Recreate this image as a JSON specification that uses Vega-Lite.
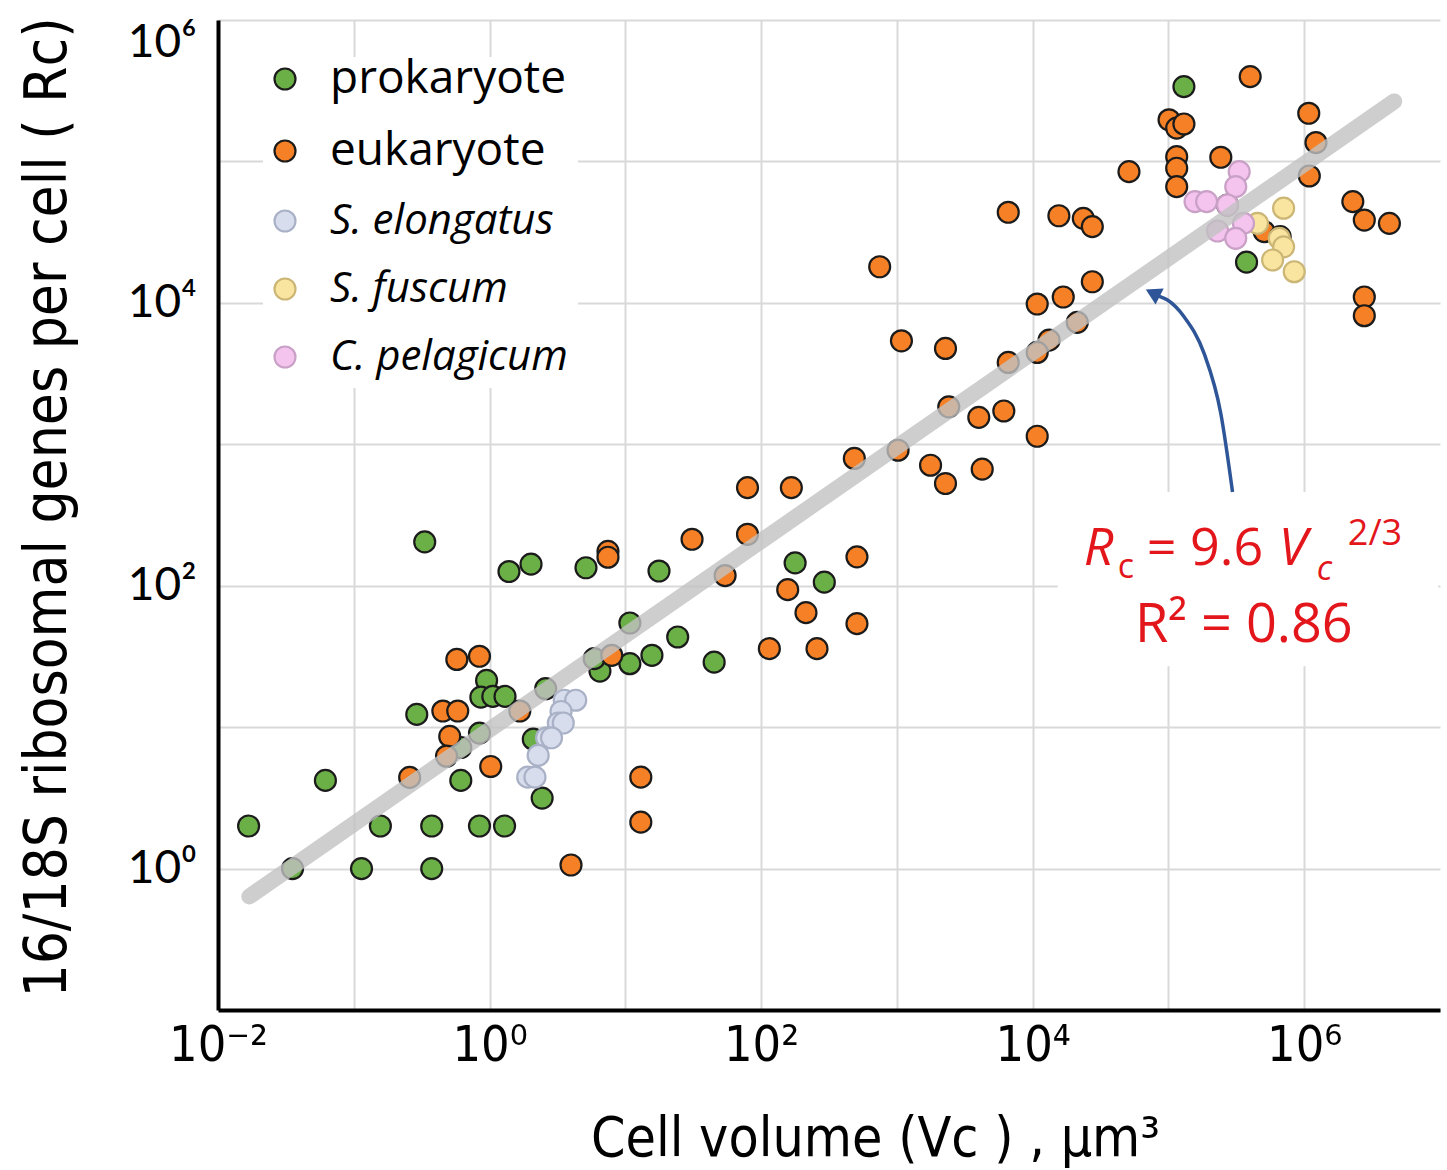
{
  "$schema": "https://vega.github.io/schema/vega-lite/v6.json",
  "width": 1222,
  "height": 990,
  "autosize": {"type": "none"},
  "padding": {"left": 218, "top": 20, "right": 7, "bottom": 160},
  "background": "white",
  "config": {"view": {"stroke": null}},
  "datasets": {
    "box": [{"V": 15300, "V2": 9700000, "R": 27, "R2": 460}],
    "pts": [
      {"group": "prokaryote", "V": 0.0168, "R": 2},
      {"group": "prokaryote", "V": 0.0354, "R": 1},
      {"group": "prokaryote", "V": 0.0618, "R": 4.2},
      {"group": "prokaryote", "V": 0.114, "R": 1},
      {"group": "prokaryote", "V": 0.157, "R": 2},
      {"group": "prokaryote", "V": 0.291, "R": 12.3},
      {"group": "prokaryote", "V": 0.375, "R": 2},
      {"group": "prokaryote", "V": 0.375, "R": 1},
      {"group": "prokaryote", "V": 0.614, "R": 7.18},
      {"group": "prokaryote", "V": 0.614, "R": 4.2},
      {"group": "prokaryote", "V": 0.843, "R": 2},
      {"group": "prokaryote", "V": 1.29, "R": 2},
      {"group": "prokaryote", "V": 0.843, "R": 9.07},
      {"group": "prokaryote", "V": 0.951, "R": 21.4},
      {"group": "prokaryote", "V": 0.863, "R": 16.3},
      {"group": "prokaryote", "V": 1.057, "R": 16.5},
      {"group": "prokaryote", "V": 1.3, "R": 16.5},
      {"group": "prokaryote", "V": 0.333, "R": 204},
      {"group": "prokaryote", "V": 1.39, "R": 126},
      {"group": "prokaryote", "V": 2.02, "R": 142},
      {"group": "prokaryote", "V": 5.13, "R": 134},
      {"group": "prokaryote", "V": 17.7, "R": 127},
      {"group": "prokaryote", "V": 10.8, "R": 54.5},
      {"group": "prokaryote", "V": 24.3, "R": 43.4},
      {"group": "prokaryote", "V": 15.7, "R": 32.2},
      {"group": "prokaryote", "V": 10.8, "R": 28.1},
      {"group": "prokaryote", "V": 6.5, "R": 24.9},
      {"group": "prokaryote", "V": 5.9, "R": 30.5},
      {"group": "prokaryote", "V": 2.59, "R": 18.7},
      {"group": "prokaryote", "V": 2.1, "R": 8.22},
      {"group": "prokaryote", "V": 2.44, "R": 3.15},
      {"group": "prokaryote", "V": 45.1, "R": 28.8},
      {"group": "prokaryote", "V": 178, "R": 145},
      {"group": "prokaryote", "V": 292, "R": 106},
      {"group": "prokaryote", "V": 130000, "R": 338000},
      {"group": "prokaryote", "V": 376000, "R": 19400},
      {"group": "eukaryote", "V": 0.258, "R": 4.41},
      {"group": "eukaryote", "V": 0.453, "R": 13},
      {"group": "eukaryote", "V": 0.583, "R": 13},
      {"group": "eukaryote", "V": 0.574, "R": 30.1},
      {"group": "eukaryote", "V": 0.843, "R": 31.7},
      {"group": "eukaryote", "V": 0.509, "R": 8.6},
      {"group": "eukaryote", "V": 0.482, "R": 6.23},
      {"group": "eukaryote", "V": 1.02, "R": 5.27},
      {"group": "eukaryote", "V": 1.67, "R": 13},
      {"group": "eukaryote", "V": 7.45, "R": 175},
      {"group": "eukaryote", "V": 7.45, "R": 159},
      {"group": "eukaryote", "V": 31, "R": 213},
      {"group": "eukaryote", "V": 3.98, "R": 1.06},
      {"group": "eukaryote", "V": 13, "R": 4.43},
      {"group": "eukaryote", "V": 13, "R": 2.13},
      {"group": "eukaryote", "V": 7.94, "R": 32.2},
      {"group": "eukaryote", "V": 54.3, "R": 118},
      {"group": "eukaryote", "V": 79.4, "R": 494},
      {"group": "eukaryote", "V": 79.4, "R": 231},
      {"group": "eukaryote", "V": 167, "R": 494},
      {"group": "eukaryote", "V": 486, "R": 794},
      {"group": "eukaryote", "V": 1020, "R": 908},
      {"group": "eukaryote", "V": 508, "R": 160},
      {"group": "eukaryote", "V": 157, "R": 93.8},
      {"group": "eukaryote", "V": 214, "R": 64.5},
      {"group": "eukaryote", "V": 508, "R": 53.9},
      {"group": "eukaryote", "V": 115, "R": 35.9},
      {"group": "eukaryote", "V": 258, "R": 35.9},
      {"group": "eukaryote", "V": 51200, "R": 84700},
      {"group": "eukaryote", "V": 6610, "R": 43700},
      {"group": "eukaryote", "V": 15600, "R": 41300},
      {"group": "eukaryote", "V": 23600, "R": 39600},
      {"group": "eukaryote", "V": 27500, "R": 34600},
      {"group": "eukaryote", "V": 747, "R": 18000},
      {"group": "eukaryote", "V": 27500, "R": 14100},
      {"group": "eukaryote", "V": 16800, "R": 11000},
      {"group": "eukaryote", "V": 10800, "R": 9810},
      {"group": "eukaryote", "V": 21300, "R": 7280},
      {"group": "eukaryote", "V": 13200, "R": 5450},
      {"group": "eukaryote", "V": 10800, "R": 4460},
      {"group": "eukaryote", "V": 1080, "R": 5390},
      {"group": "eukaryote", "V": 2280, "R": 4760},
      {"group": "eukaryote", "V": 6610, "R": 3790},
      {"group": "eukaryote", "V": 2410, "R": 1840},
      {"group": "eukaryote", "V": 4010, "R": 1550},
      {"group": "eukaryote", "V": 6130, "R": 1720},
      {"group": "eukaryote", "V": 10800, "R": 1140},
      {"group": "eukaryote", "V": 1770, "R": 711},
      {"group": "eukaryote", "V": 2280, "R": 528},
      {"group": "eukaryote", "V": 4250, "R": 667},
      {"group": "eukaryote", "V": 400000, "R": 398000},
      {"group": "eukaryote", "V": 101000, "R": 197000},
      {"group": "eukaryote", "V": 115000, "R": 172000},
      {"group": "eukaryote", "V": 130000, "R": 184000},
      {"group": "eukaryote", "V": 115000, "R": 108000},
      {"group": "eukaryote", "V": 115000, "R": 89500},
      {"group": "eukaryote", "V": 115000, "R": 66300},
      {"group": "eukaryote", "V": 243000, "R": 107000},
      {"group": "eukaryote", "V": 1080000, "R": 219000},
      {"group": "eukaryote", "V": 1220000, "R": 136000},
      {"group": "eukaryote", "V": 1090000, "R": 78900},
      {"group": "eukaryote", "V": 2280000, "R": 52000},
      {"group": "eukaryote", "V": 2770000, "R": 38500},
      {"group": "eukaryote", "V": 4240000, "R": 36500},
      {"group": "eukaryote", "V": 2770000, "R": 11000},
      {"group": "eukaryote", "V": 2770000, "R": 8110},
      {"group": "eukaryote", "V": 272000, "R": 49200},
      {"group": "eukaryote", "V": 507000, "R": 31900},
      {"group": "eukaryote", "V": 665000, "R": 29400},
      {"group": "S. elongatus", "V": 3.55, "R": 15.5},
      {"group": "S. elongatus", "V": 4.31, "R": 15.5},
      {"group": "S. elongatus", "V": 3.36, "R": 12.9},
      {"group": "S. elongatus", "V": 3.21, "R": 10.7},
      {"group": "S. elongatus", "V": 3.49, "R": 10.7},
      {"group": "S. elongatus", "V": 2.63, "R": 8.41},
      {"group": "S. elongatus", "V": 2.86, "R": 8.41},
      {"group": "S. elongatus", "V": 2.28, "R": 6.31},
      {"group": "S. elongatus", "V": 1.91, "R": 4.43},
      {"group": "S. elongatus", "V": 2.16, "R": 4.43},
      {"group": "S. fuscum", "V": 705000, "R": 46700},
      {"group": "S. fuscum", "V": 453000, "R": 36500},
      {"group": "S. fuscum", "V": 655000, "R": 28600},
      {"group": "S. fuscum", "V": 705000, "R": 24900},
      {"group": "S. fuscum", "V": 585000, "R": 20100},
      {"group": "S. fuscum", "V": 844000, "R": 16600},
      {"group": "C. pelagicum", "V": 332000, "R": 84700},
      {"group": "C. pelagicum", "V": 313000, "R": 66300},
      {"group": "C. pelagicum", "V": 157000, "R": 52000},
      {"group": "C. pelagicum", "V": 191000, "R": 52000},
      {"group": "C. pelagicum", "V": 272000, "R": 49200},
      {"group": "C. pelagicum", "V": 230000, "R": 32200},
      {"group": "C. pelagicum", "V": 357000, "R": 36500},
      {"group": "C. pelagicum", "V": 313000, "R": 28600}
    ],
    "fit": [{"V": 0.017, "R": 0.635}, {"V": 4600000, "R": 265600}],
    "arrow": [
      {"V": 296500, "R": 460},
      {"V": 243000, "R": 1652},
      {"V": 183000, "R": 4395},
      {"V": 130300, "R": 7976},
      {"V": 98400, "R": 10470},
      {"V": 84800, "R": 11170}
    ],
    "arrowhead": [{"V": 76600, "R": 11730}],
    "eq": [{"V": 371500, "R": 139.4}],
    "r2": [{"V": 359000, "R": 39.76, "label": "R² = 0.86"}]
  },
  "encoding": {
    "x": {"field": "V", "type": "quantitative",
      "scale": {"type": "log", "domain": [0.01, 10000000], "nice": false},
      "axis": {
        "values": [0.01, 0.1, 1, 10, 100, 1000, 10000, 100000, 1000000],
        "labelExpr": "['10⁻²','','10⁰','','10²','','10⁴','','10⁶',''][round(log(datum.value)/LN10)+2]",
        "grid": true, "gridColor": "#d9d9d9", "gridWidth": 2,
        "domainColor": "#000000", "domainWidth": 4,
        "ticks": false, "tickSize": 0, "labelPadding": 10,
        "labelFont": "Liberation Sans Narrow, DejaVu Sans Condensed, Lato", "labelFontSize": 50, "labelColor": "#000000",
        "labelBaseline": "top", "labelOverlap": false, "labelFlush": false, "labelBound": false,
        "title": "Cell volume (Vc ) , µm³",
        "titleFont": "Liberation Sans Narrow, DejaVu Sans Condensed, Lato", "titleFontSize": 55, "titleFontWeight": "normal", "titleColor": "#000000",
        "titleX": 657, "titleY": 128, "titleBaseline": "middle", "titleAlign": "center",
        "zindex": 0
      }
    },
    "y": {"field": "R", "type": "quantitative",
      "scale": {"type": "log", "domain": [0.1, 1000000], "nice": false},
      "axis": {
        "values": [0.1, 1, 10, 100, 1000, 10000, 100000, 1000000],
        "labelExpr": "['','10⁰','','10²','','10⁴','','10⁶'][round(log(datum.value)/LN10)+1]",
        "grid": true, "gridColor": "#d9d9d9", "gridWidth": 2,
        "domainColor": "#000000", "domainWidth": 4,
        "ticks": false, "tickSize": 0, "labelPadding": 22,
        "labelFont": "Lato", "labelFontSize": 46, "labelColor": "#000000",
        "labelOverlap": false, "labelFlush": true, "labelBound": false,
        "title": "16/18S ribosomal genes per cell ( Rc)",
        "titleFont": "Liberation Sans Narrow, DejaVu Sans Condensed, Lato", "titleFontSize": 58, "titleFontWeight": "normal", "titleColor": "#000000",
        "titleAngle": -90, "titleX": -170, "titleY": 487, "titleBaseline": "middle", "titleAlign": "center",
        "zindex": 0
      }
    }
  },
  "layer": [
    {
      "data": {"name": "box"},
      "mark": {"type": "rect", "fill": "white"},
      "encoding": {"x2": {"field": "V2"}, "y2": {"field": "R2"}}
    },
    {
      "data": {"name": "pts"},
      "mark": {"type": "point", "filled": true, "opacity": 1, "strokeWidth": 2.2},
      "encoding": {
        "fill": {"field": "group", "type": "nominal",
          "scale": {"domain": ["prokaryote", "eukaryote", "S. elongatus", "S. fuscum", "C. pelagicum"],
                    "range": ["#6baf47", "#f58025", "#d8ddee", "#fae5a0", "#f4c4ee"]},
          "legend": {"title": null, "orient": "none", "legendX": 45, "legendY": 37, "fillColor": "white", "padding": 10,
            "rowPadding": 26, "labelFont": "Open Sans", "labelFontSize": 44, "labelColor": "#000000", "labelOffset": 33, "labelLimit": 0,
            "symbolStrokeWidth": 2.2,
            "encoding": {
              "symbols": {"size": {"condition": {"test": "datum.value === 'prokaryote' || datum.value === 'eukaryote'", "value": 900}, "value": 560}},
              "labels": {
                "fontStyle": {"condition": {"test": "datum.value === 'prokaryote' || datum.value === 'eukaryote'", "value": "normal"}, "value": "italic"},
                "fontSize": {"condition": {"test": "datum.value === 'prokaryote' || datum.value === 'eukaryote'", "value": 46}, "value": 42}}
            }
          }
        },
        "stroke": {"field": "group", "type": "nominal",
          "scale": {"domain": ["prokaryote", "eukaryote", "S. elongatus", "S. fuscum", "C. pelagicum"],
                    "range": ["#1b1b1b", "#1b1b1b", "#a9b1c6", "#cbb676", "#c9a0c6"]},
          "legend": {"title": null, "orient": "none", "legendX": 45, "legendY": 37}
        },
        "size": {"field": "group", "type": "nominal",
          "scale": {"domain": ["prokaryote", "eukaryote", "S. elongatus", "S. fuscum", "C. pelagicum"],
                    "range": [440, 440, 170, 170, 170]},
          "legend": {"title": null, "orient": "none", "legendX": 45, "legendY": 37}
        }
      }
    },
    {
      "data": {"name": "fit"},
      "mark": {"type": "line", "color": "#c2c2c2", "strokeWidth": 16, "strokeCap": "round", "opacity": 0.8},
      "encoding": {}
    },
    {
      "data": {"name": "arrow"},
      "mark": {"type": "line", "color": "#2e5597", "strokeWidth": 3.5, "interpolate": "monotone"},
      "encoding": {}
    },
    {
      "data": {"name": "arrowhead"},
      "mark": {"type": "point", "shape": "triangle-up", "filled": true, "color": "#2e5597", "opacity": 1, "size": 320, "angle": 297},
      "encoding": {}
    },
    {
      "data": {"name": "eq"},
      "layer": [
        {"mark": {"type": "text", "text": "R", "font": "Open Sans", "fontSize": 52, "fontStyle": "italic", "color": "#e3161b", "align": "left", "baseline": "alphabetic", "dx": -162}},
        {"mark": {"type": "text", "text": "c", "font": "Open Sans", "fontSize": 34, "color": "#e3161b", "align": "left", "baseline": "alphabetic", "dx": -128, "dy": 13}},
        {"mark": {"type": "text", "text": "= 9.6", "font": "Open Sans", "fontSize": 52, "color": "#e3161b", "align": "left", "baseline": "alphabetic", "dx": -99}},
        {"mark": {"type": "text", "text": "V", "font": "Open Sans", "fontSize": 52, "fontStyle": "italic", "color": "#e3161b", "align": "left", "baseline": "alphabetic", "dx": 33}},
        {"mark": {"type": "text", "text": "c", "font": "Open Sans", "fontSize": 34, "fontStyle": "italic", "color": "#e3161b", "align": "left", "baseline": "alphabetic", "dx": 71, "dy": 15}},
        {"mark": {"type": "text", "text": "2/3", "font": "Open Sans", "fontSize": 36, "color": "#e3161b", "align": "left", "baseline": "alphabetic", "dx": 102, "dy": -20}}
      ]
    },
    {
      "data": {"name": "r2"},
      "mark": {"type": "text", "font": "Open Sans", "fontSize": 54, "color": "#e3161b", "align": "center", "baseline": "alphabetic"},
      "encoding": {"text": {"field": "label"}}
    }
  ]
}
